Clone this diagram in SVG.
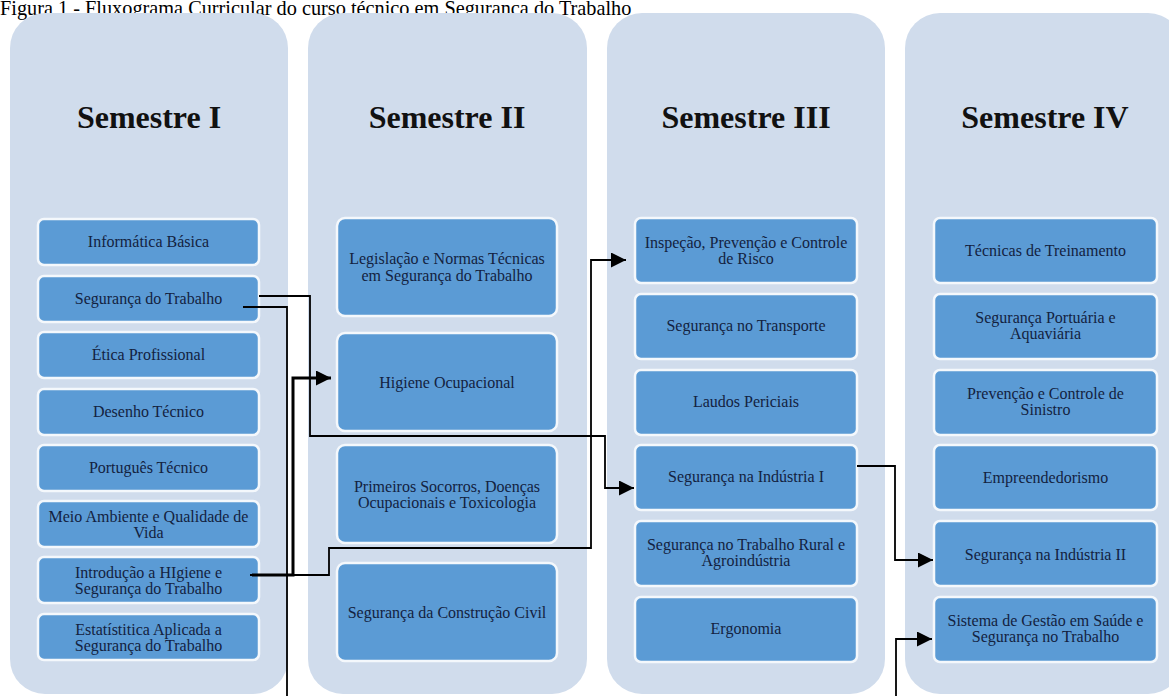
<svg xmlns="http://www.w3.org/2000/svg" width="1169" height="696" viewBox="0 0 1169 696">
<defs>
<marker id="arr" viewBox="0 0 10 10" refX="10" refY="5" markerWidth="15" markerHeight="15" markerUnits="userSpaceOnUse" orient="auto">
<path d="M0,0 L10,5 L0,10 z" fill="#000"/>
</marker>
</defs>
<style>
.col{fill:#D0DCEC}
.box{fill:#5B9BD5;stroke:#F4F8FC;stroke-width:2.5}
.t{font-family:"Liberation Serif","Times New Roman",serif;font-size:16px;fill:#13223F;text-anchor:middle}
.h{font-family:"Liberation Serif","Times New Roman",serif;font-size:32px;font-weight:bold;fill:#111;text-anchor:middle}
.ttl{font-family:"Liberation Serif","Times New Roman",serif;font-size:20.3px;fill:#000}
.c{fill:none;stroke:#000;stroke-width:1.8}
.ck{fill:none;stroke:#000;stroke-width:3}
</style>
<rect width="1169" height="696" fill="#fff"/>
<text class="ttl" x="0" y="15">Figura 1 - Fluxograma Curricular do curso técnico em Segurança do Trabalho</text>

<g id="col1">
<rect class="col" x="10" y="13" width="278" height="681" rx="35"/>
<text class="h" x="149" y="128">Semestre I</text>
</g>
<g id="col2">
<rect class="col" x="308" y="13" width="279" height="681" rx="35"/>
<text class="h" x="447" y="128">Semestre II</text>
</g>
<g id="col3">
<rect class="col" x="607" y="13" width="278" height="681" rx="35"/>
<text class="h" x="746" y="128">Semestre III</text>
</g>
<g id="col4">
<rect class="col" x="905" y="13" width="278" height="681" rx="35"/>
<text class="h" x="1045" y="128">Semestre IV</text>
</g>

<g id="s1-informatica"><rect class="box" x="38" y="219" width="221" height="46" rx="6"/><text class="t" x="148.5" y="247">Informática Básica</text></g>
<g id="s1-seguranca"><rect class="box" x="38" y="276" width="221" height="46" rx="6"/><text class="t" x="148.5" y="304">Segurança do Trabalho</text></g>
<g id="s1-etica"><rect class="box" x="38" y="332" width="221" height="46" rx="6"/><text class="t" x="148.5" y="360">Ética Profissional</text></g>
<g id="s1-desenho"><rect class="box" x="38" y="389" width="221" height="46" rx="6"/><text class="t" x="148.5" y="417">Desenho Técnico</text></g>
<g id="s1-portugues"><rect class="box" x="38" y="445" width="221" height="46" rx="6"/><text class="t" x="148.5" y="473">Português Técnico</text></g>
<g id="s1-meio"><rect class="box" x="38" y="501" width="221" height="46" rx="6"/><text class="t" x="148.5" y="522">Meio Ambiente e Qualidade de</text><text class="t" x="148.5" y="538">Vida</text></g>
<g id="s1-introducao"><rect class="box" x="38" y="557" width="221" height="46" rx="6"/><text class="t" x="148.5" y="578">Introdução a HIgiene e</text><text class="t" x="148.5" y="594">Segurança do Trabalho</text></g>
<g id="s1-estatistica"><rect class="box" x="38" y="614" width="221" height="46" rx="6"/><text class="t" x="148.5" y="635">Estatístitica Aplicada a</text><text class="t" x="148.5" y="651">Segurança do Trabalho</text></g>

<g id="s2-legislacao"><rect class="box" x="337" y="218" width="220" height="98" rx="8"/><text class="t" x="447" y="264">Legislação e Normas Técnicas</text><text class="t" x="447" y="281">em Segurança do Trabalho</text></g>
<g id="s2-higiene"><rect class="box" x="337" y="333" width="220" height="98" rx="8"/><text class="t" x="447" y="388">Higiene Ocupacional</text></g>
<g id="s2-primeiros"><rect class="box" x="337" y="445" width="220" height="98" rx="8"/><text class="t" x="447" y="492">Primeiros Socorros, Doenças</text><text class="t" x="447" y="508">Ocupacionais e Toxicologia</text></g>
<g id="s2-construcao"><rect class="box" x="337" y="563" width="220" height="98" rx="8"/><text class="t" x="447" y="618">Segurança da Construção Civil</text></g>

<g id="s3-inspecao"><rect class="box" x="635" y="218" width="222" height="65" rx="6"/><text class="t" x="746" y="248">Inspeção, Prevenção e Controle</text><text class="t" x="746" y="264">de Risco</text></g>
<g id="s3-transporte"><rect class="box" x="635" y="294" width="222" height="65" rx="6"/><text class="t" x="746" y="331">Segurança no Transporte</text></g>
<g id="s3-laudos"><rect class="box" x="635" y="370" width="222" height="65" rx="6"/><text class="t" x="746" y="407">Laudos Periciais</text></g>
<g id="s3-industria1"><rect class="box" x="635" y="445" width="222" height="65" rx="6"/><text class="t" x="746" y="482">Segurança na Indústria I</text></g>
<g id="s3-rural"><rect class="box" x="635" y="521" width="222" height="65" rx="6"/><text class="t" x="746" y="550">Segurança no Trabalho Rural e</text><text class="t" x="746" y="566">Agroindústria</text></g>
<g id="s3-ergonomia"><rect class="box" x="635" y="597" width="222" height="65" rx="6"/><text class="t" x="746" y="634">Ergonomia</text></g>

<g id="s4-treinamento"><rect class="box" x="934" y="218" width="223" height="65" rx="6"/><text class="t" x="1045.5" y="256">Técnicas de Treinamento</text></g>
<g id="s4-portuaria"><rect class="box" x="934" y="294" width="223" height="65" rx="6"/><text class="t" x="1045.5" y="323">Segurança Portuária e</text><text class="t" x="1045.5" y="339">Aquaviária</text></g>
<g id="s4-sinistro"><rect class="box" x="934" y="370" width="223" height="65" rx="6"/><text class="t" x="1045.5" y="399">Prevenção e Controle de</text><text class="t" x="1045.5" y="415">Sinistro</text></g>
<g id="s4-empreendedorismo"><rect class="box" x="934" y="445" width="223" height="65" rx="6"/><text class="t" x="1045.5" y="483">Empreendedorismo</text></g>
<g id="s4-industria2"><rect class="box" x="934" y="521" width="223" height="65" rx="6"/><text class="t" x="1045.5" y="560">Segurança na Indústria II</text></g>
<g id="s4-sistema"><rect class="box" x="934" y="597" width="223" height="65" rx="6"/><text class="t" x="1045.5" y="626">Sistema de Gestão em Saúde e</text><text class="t" x="1045.5" y="642">Segurança no Trabalho</text></g>

<g id="connectors">
<path class="c" d="M259,296 H310 V436 H605 V488 H634" marker-end="url(#arr)"/>
<path class="c" d="M243,307 H287 V696"/>
<path class="c" d="M896,696 V639 H932" marker-end="url(#arr)"/>
<path class="c" d="M250,575 H329 V548 H591 V260 H626" marker-end="url(#arr)"/>
<path class="ck" d="M252,575 H293 V378 H331" marker-end="url(#arr)"/>
<path class="c" d="M857,466 H895 V560 H933" marker-end="url(#arr)"/>
</g>
</svg>
